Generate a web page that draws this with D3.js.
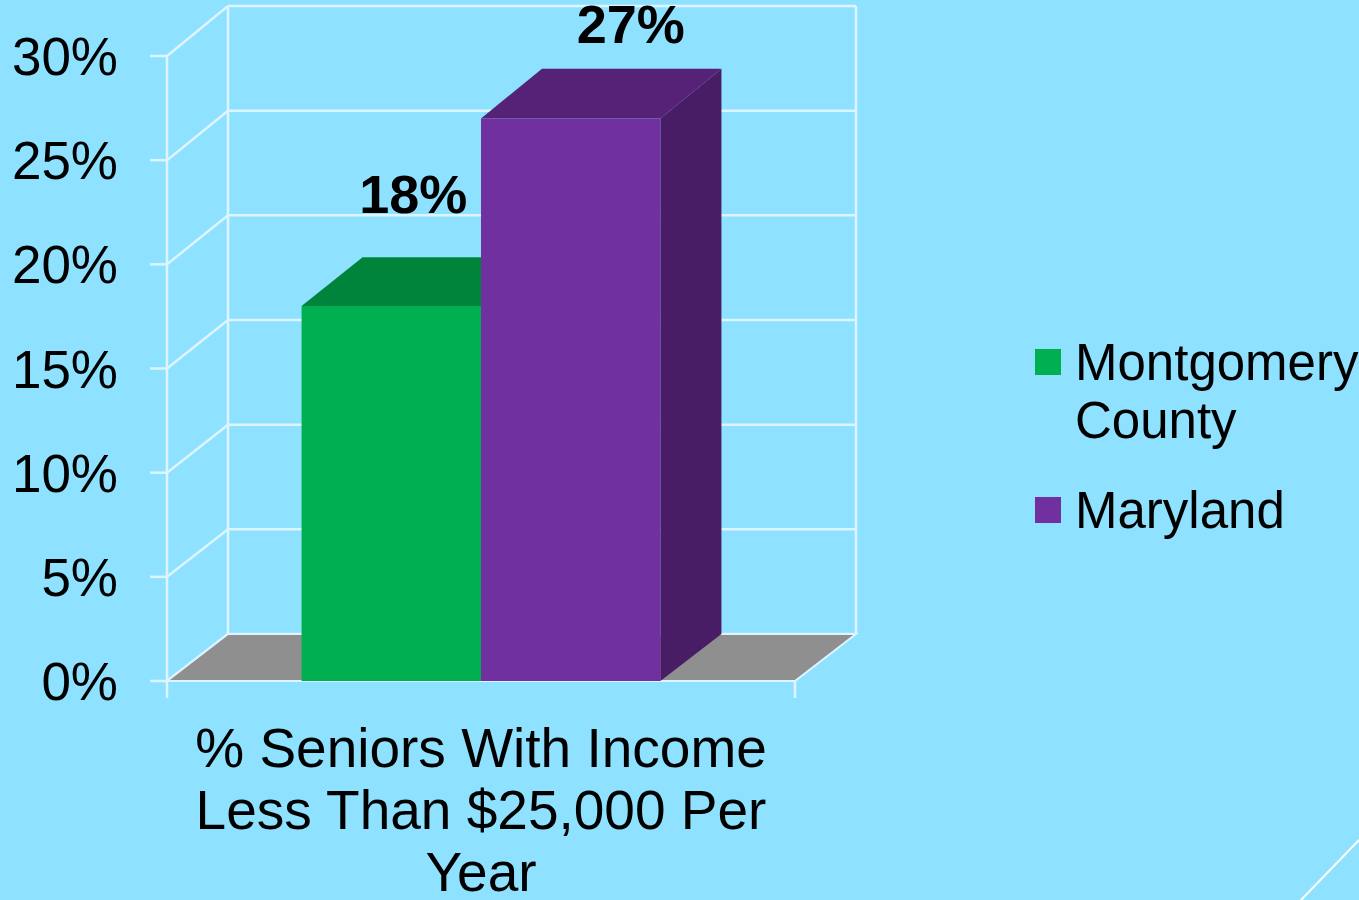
<!DOCTYPE html>
<html>
<head>
<meta charset="utf-8">
<script src="https://cdn.jsdelivr.net/npm/d3@7"></script>
<style>
  html, body { margin: 0; padding: 0; background: #8EE1FF; overflow: hidden; }
  svg { display: block; }
  text { font-family: "Liberation Sans", Arial, sans-serif; fill: #000; }
</style>
</head>
<body>
<svg id="chart" width="1359" height="900"></svg>
<script>
// ---- data ----
const categories = ["% Seniors With Income|Less Than $25,000 Per|Year"];
const seriesNames = ["Montgomery County", "Maryland"];
const seriesValues = [18, 27];
const dataLabels = ["18%", "27%"];
const tickValues = [0, 5, 10, 15, 20, 25, 30];
const tickLabels = ["0%", "5%", "10%", "15%", "20%", "25%", "30%"];

// ---- styles ----
const frontColors = ["#00B050", "#7030A0"];
const topColors = ["#00843C", "#552277"];
const sideColors = ["#006B30", "#481D66"];
const labelNudgeX = [22, 60];
const labelNudgeY = [93, 76];
const grid = "#DDF5FF";

const svg = d3.select("#chart");
svg.append("rect").attr("width", 1359).attr("height", 900).attr("fill", "#8EE1FF");

// ---- scales ----
const yFront = d3.scaleLinear().domain([0, 30]).range([681, 56]);
const yBack = d3.scaleLinear().domain([0, 30]).range([634, 6]);
const DX = 61;
const x0 = d3.scaleBand().domain(categories).range([167, 795]).paddingInner(0).paddingOuter(0);
const x1 = d3.scaleBand().domain(seriesNames).range([0, x0.bandwidth()]).paddingInner(0).paddingOuter(0.75);

const xLeft = x0.range()[0], xRight = x0.range()[1];
const SW = 2.5;

// ---- grid / walls ----
const g = svg.append("g");
tickValues.forEach(t => {
  g.append("line").attr("x1", xLeft - 17).attr("x2", xLeft)
    .attr("y1", yFront(t)).attr("y2", yFront(t))
    .attr("stroke", grid).attr("stroke-width", SW);
  g.append("line").attr("x1", xLeft).attr("x2", xLeft + DX)
    .attr("y1", yFront(t)).attr("y2", yBack(t))
    .attr("stroke", grid).attr("stroke-width", SW);
  g.append("line").attr("x1", xLeft + DX).attr("x2", xRight + DX)
    .attr("y1", yBack(t)).attr("y2", yBack(t))
    .attr("stroke", grid).attr("stroke-width", SW);
});
g.append("line").attr("x1", xLeft).attr("x2", xLeft)
  .attr("y1", yFront(30)).attr("y2", yFront(0) + 17)
  .attr("stroke", grid).attr("stroke-width", SW);
g.append("line").attr("x1", xLeft + DX).attr("x2", xLeft + DX)
  .attr("y1", yBack(30)).attr("y2", yBack(0))
  .attr("stroke", grid).attr("stroke-width", SW);
g.append("line").attr("x1", xRight + DX).attr("x2", xRight + DX)
  .attr("y1", yBack(30)).attr("y2", yBack(0))
  .attr("stroke", grid).attr("stroke-width", SW);
g.append("line").attr("x1", xRight).attr("x2", xRight)
  .attr("y1", yFront(0)).attr("y2", yFront(0) + 17)
  .attr("stroke", grid).attr("stroke-width", SW);

// floor
g.append("polygon")
  .attr("points", [[xLeft, yFront(0)], [xRight, yFront(0)], [xRight + DX, yBack(0)], [xLeft + DX, yBack(0)]].map(p => p.join(",")).join(" "))
  .attr("fill", "#8F8F8F").attr("stroke", grid).attr("stroke-width", 2);

// tick labels
svg.append("g").selectAll("text").data(tickValues).join("text")
  .attr("x", 118).attr("y", d => yFront(d) + 19)
  .attr("text-anchor", "end")
  .style("font-size", "53px")
  .text((d, i) => tickLabels[i]);

// ---- bars ----
const cat = categories[0];
const bars = svg.append("g");
seriesValues.forEach((v, i) => {
  const x = x0(cat) + x1(seriesNames[i]);
  const w = x1.bandwidth();
  const yF = yFront(v), yB = yBack(v), yF0 = yFront(0), yB0 = yBack(0);
  bars.append("polygon")
    .attr("points", [[x + w, yF], [x + w + DX, yB], [x + w + DX, yB0], [x + w, yF0]].map(p => p.join(",")).join(" "))
    .attr("fill", sideColors[i]);
  bars.append("polygon")
    .attr("points", [[x, yF], [x + w, yF], [x + w + DX, yB], [x + DX, yB]].map(p => p.join(",")).join(" "))
    .attr("fill", topColors[i]);
  bars.append("rect")
    .attr("x", x).attr("y", yF).attr("width", w).attr("height", yF0 - yF)
    .attr("fill", frontColors[i]);
});
seriesValues.forEach((v, i) => {
  const x = x0(cat) + x1(seriesNames[i]) + x1.bandwidth() / 2;
  svg.append("text")
    .attr("x", x + labelNudgeX[i]).attr("y", yFront(v) - labelNudgeY[i])
    .attr("text-anchor", "middle")
    .style("font-size", "54px").style("font-weight", "bold")
    .text(dataLabels[i]);
});

// ---- category axis label ----
const catLines = cat.split("|");
const catText = svg.append("text")
  .attr("text-anchor", "middle")
  .style("font-size", "55px");
catLines.forEach((ln, j) => {
  catText.append("tspan")
    .attr("x", x0(cat) + x0.bandwidth() / 2)
    .attr("y", 767 + j * 62)
    .text(ln);
});

// ---- legend ----
const legendLines = [["Montgomery", "County"], ["Maryland"]];
const legendY = [349, 497];
seriesNames.forEach((name, i) => {
  const lg = svg.append("g");
  lg.append("rect").attr("x", 1035).attr("y", legendY[i]).attr("width", 26).attr("height", 26)
    .attr("fill", frontColors[i]);
  const t = lg.append("text").style("font-size", "51px");
  legendLines[i].forEach((ln, j) => {
    t.append("tspan").attr("x", 1075).attr("y", legendY[i] + 31 + j * 58).text(ln);
  });
});

// decorative corner line
svg.append("line").attr("x1", 1301).attr("y1", 900).attr("x2", 1359).attr("y2", 840)
  .attr("stroke", "#FFFFFF").attr("stroke-width", 2);
</script>
</body>
</html>
